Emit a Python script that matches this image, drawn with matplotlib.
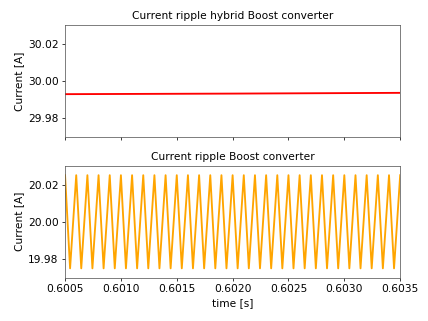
import matplotlib
matplotlib.use("Agg")
import matplotlib.pyplot as plt

# hybrid converter: almost flat current (slight ramp)
t_hybrid = [0.6005, 0.6020, 0.6035]
i_hybrid = [29.9929, 29.9932, 29.9936]

# classic boost converter: triangular ripple, vertices
t_boost = [
    0.60050, 0.600545, 0.60060, 0.600645, 0.60070, 0.600745, 0.60080, 0.600845,
    0.60090, 0.600945, 0.60100, 0.601045, 0.60110, 0.601145, 0.60120, 0.601245,
    0.60130, 0.601345, 0.60140, 0.601445, 0.60150, 0.601545, 0.60160, 0.601645,
    0.60170, 0.601745, 0.60180, 0.601845, 0.60190, 0.601945, 0.60200, 0.602045,
    0.60210, 0.602145, 0.60220, 0.602245, 0.60230, 0.602345, 0.60240, 0.602445,
    0.60250, 0.602545, 0.60260, 0.602645, 0.60270, 0.602745, 0.60280, 0.602845,
    0.60290, 0.602945, 0.60300, 0.603045, 0.60310, 0.603145, 0.60320, 0.603245,
    0.60330, 0.603345, 0.60340, 0.603445, 0.60350,
]
i_boost = [
    20.025, 19.975, 20.025, 19.975, 20.025, 19.975, 20.025, 19.975,
    20.025, 19.975, 20.025, 19.975, 20.025, 19.975, 20.025, 19.975,
    20.025, 19.975, 20.025, 19.975, 20.025, 19.975, 20.025, 19.975,
    20.025, 19.975, 20.025, 19.975, 20.025, 19.975, 20.025, 19.975,
    20.025, 19.975, 20.025, 19.975, 20.025, 19.975, 20.025, 19.975,
    20.025, 19.975, 20.025, 19.975, 20.025, 19.975, 20.025, 19.975,
    20.025, 19.975, 20.025, 19.975, 20.025, 19.975, 20.025, 19.975,
    20.025, 19.975, 20.025, 19.975, 20.025,
]

xticks = [0.6005, 0.6010, 0.6015, 0.6020, 0.6025, 0.6030, 0.6035]

plt.rcParams["font.size"] = 11.5
fig, (ax1, ax2) = plt.subplots(2, 1, figsize=(6.4, 4.8), dpi=428 / 6.4, sharex=True)
fig.subplots_adjust(left=0.152, right=0.935, top=0.922, bottom=0.135, hspace=0.26)

ax1.plot(t_hybrid, i_hybrid, color="red", lw=2)
ax1.set_ylim(29.97, 30.03)
ax1.set_yticks([29.98, 30.00, 30.02])
ax1.set_ylabel("Current [A]")
ax1.set_title("Current ripple hybrid Boost converter", fontsize=11.5)

ax2.plot(t_boost, i_boost, color="orange", lw=2)
ax2.set_ylim(19.97, 20.03)
ax2.set_yticks([19.98, 20.00, 20.02])
ax2.set_xlim(0.6005, 0.6035)
ax2.set_xticks(xticks)
ax2.set_ylabel("Current [A]")
ax2.set_xlabel("time [s]")
ax2.set_title("Current ripple Boost converter", fontsize=11.5)

for ax in (ax1, ax2):
    for sp in ax.spines.values():
        sp.set_color("#555555")

fig.savefig("out.png")
